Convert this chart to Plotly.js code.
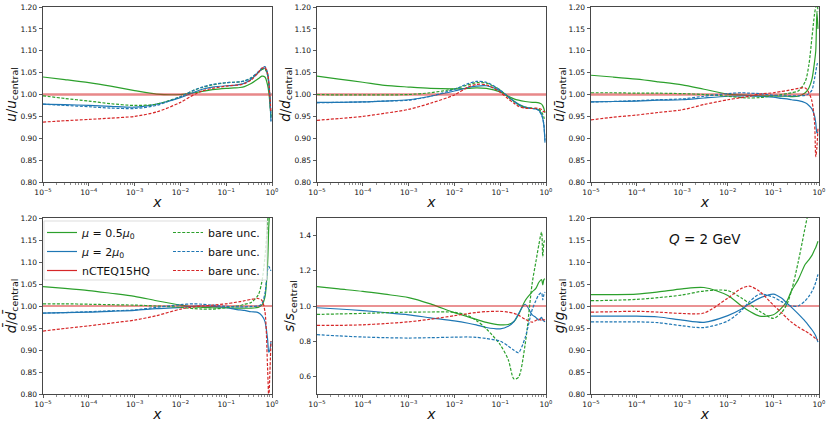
<!DOCTYPE html>
<html><head><meta charset="utf-8">
<script src="https://cdn.plot.ly/plotly-3.0.1.min.js"></script>
<style>html,body{margin:0;padding:0;background:#fff}#chart{width:831px;height:424px}</style>
</head><body><div id="chart"></div>
<script>
// x grid (shared by all curves)
const xGrid = [1e-5, 3e-5, 1e-4, 3e-4, 1e-3, 3e-3, 0.01, 0.02, 0.03, 0.05, 0.1, 0.15, 0.2, 0.25, 0.35, 0.5, 0.6, 0.7, 0.8, 0.85, 0.9, 0.95];
// central reference (ratio to itself)
const centralX = [1e-5, 1];
const centralRatio = [1, 1];

// u
const u_mu05   = [1.040,1.034,1.027,1.019,1.009,1.001,1.000,1.004,1.007,1.011,1.014,1.015,1.016,1.018,1.025,1.036,1.042,1.040,1.022,1.005,0.980,0.950];
const u_mu2    = [0.978,0.977,0.975,0.973,0.971,0.978,0.993,1.005,1.012,1.017,1.020,1.021,1.023,1.026,1.035,1.050,1.058,1.060,1.045,1.025,0.990,0.938];
const u_bare05 = [0.997,0.991,0.985,0.979,0.975,0.978,0.995,1.010,1.016,1.022,1.027,1.028,1.029,1.031,1.038,1.050,1.057,1.058,1.045,1.025,0.990,0.945];
const u_bare2  = [0.978,0.975,0.972,0.969,0.968,0.975,0.995,1.010,1.017,1.023,1.027,1.028,1.029,1.031,1.038,1.052,1.060,1.064,1.050,1.030,0.995,0.940];
const u_bareHQ = [0.937,0.940,0.943,0.946,0.950,0.960,0.982,1.000,1.008,1.014,1.019,1.021,1.022,1.025,1.033,1.050,1.060,1.062,1.048,1.030,0.995,0.960];
// d
const d_mu05   = [1.042,1.035,1.028,1.021,1.017,1.014,1.013,1.014,1.015,1.014,1.006,0.996,0.990,0.987,0.984,0.982,0.982,0.981,0.978,0.974,0.968,0.958];
const d_mu2    = [0.982,0.982,0.983,0.985,0.988,0.996,1.008,1.016,1.019,1.020,1.008,0.995,0.985,0.978,0.971,0.968,0.967,0.964,0.955,0.945,0.930,0.890];
const d_bare05 = [1.000,0.999,0.999,0.999,1.000,1.004,1.013,1.022,1.027,1.026,1.010,0.994,0.984,0.977,0.971,0.969,0.968,0.966,0.960,0.955,0.948,0.940];
const d_bare2  = [0.981,0.982,0.983,0.985,0.987,0.996,1.012,1.025,1.030,1.028,1.010,0.995,0.984,0.976,0.970,0.968,0.967,0.963,0.953,0.945,0.930,0.895];
const d_bareHQ = [0.941,0.945,0.950,0.957,0.966,0.980,0.999,1.017,1.023,1.022,1.005,0.990,0.980,0.973,0.969,0.968,0.969,0.968,0.966,0.963,0.960,0.962];
// u-bar
const ub_mu05   = [1.044,1.040,1.035,1.029,1.022,1.012,1.001,0.999,0.998,0.997,0.997,0.996,0.996,0.995,0.996,1.004,1.015,1.035,1.075,1.100,1.190,1.150];
const ub_mu2    = [0.983,0.984,0.985,0.987,0.988,0.992,0.996,0.997,0.997,0.996,0.994,0.991,0.990,0.988,0.986,0.981,0.975,0.967,0.951,0.935,0.912,0.915];
const ub_bare05 = [1.004,1.004,1.003,1.003,1.002,1.000,0.996,0.993,0.992,0.993,0.997,1.000,1.002,1.004,1.008,1.030,1.068,1.130,1.185,1.200,1.210,1.190];
const ub_bare2  = [0.983,0.984,0.986,0.988,0.990,0.996,1.002,1.004,1.003,1.002,0.998,0.997,0.997,0.997,0.997,0.998,1.002,1.010,1.037,1.052,1.067,1.075];
const ub_bareHQ = [0.942,0.948,0.953,0.959,0.965,0.977,0.988,0.993,0.996,1.001,1.004,1.007,1.009,1.011,1.014,1.015,1.004,0.985,0.935,0.858,0.880,0.925];
// d-bar
const db_mu05   = [1.044,1.040,1.035,1.029,1.022,1.012,1.002,0.998,0.997,0.996,0.996,0.995,0.995,0.995,0.995,0.997,1.002,1.020,1.095,1.180,1.220,1.250];
const db_mu2    = [0.984,0.985,0.986,0.988,0.990,0.994,0.997,1.000,1.000,0.999,0.996,0.993,0.991,0.990,0.987,0.985,0.978,0.965,0.925,0.895,0.900,0.920];
const db_bare05 = [1.005,1.005,1.004,1.003,1.002,1.000,0.997,0.994,0.993,0.993,0.996,0.999,1.001,1.004,1.008,1.025,1.055,1.110,1.190,1.220,1.230,1.230];
const db_bare2  = [0.984,0.985,0.987,0.989,0.991,0.997,1.003,1.005,1.004,1.002,0.999,0.998,0.998,0.998,0.999,1.000,1.005,1.028,1.082,1.090,1.085,1.080];
const db_bareHQ = [0.943,0.949,0.955,0.961,0.968,0.978,0.993,0.998,1.000,1.002,1.005,1.008,1.010,1.012,1.015,1.017,1.013,0.988,0.860,0.790,0.850,0.920];
// s
const s_mu05   = [1.110,1.097,1.083,1.067,1.048,1.012,0.962,0.938,0.924,0.907,0.893,0.895,0.912,0.950,1.030,1.080,1.100,1.135,1.150,1.120,1.150,1.155];
const s_mu2    = [0.990,0.983,0.974,0.963,0.950,0.933,0.915,0.902,0.893,0.878,0.870,0.885,0.912,0.955,1.010,0.950,0.935,0.920,0.935,0.920,0.915,0.910];
const s_bare05 = [0.952,0.955,0.958,0.962,0.965,0.966,0.964,0.945,0.918,0.870,0.780,0.695,0.585,0.595,0.780,1.130,1.250,1.350,1.420,1.280,1.360,1.380];
const s_bare2  = [0.837,0.830,0.824,0.820,0.818,0.820,0.823,0.824,0.822,0.815,0.800,0.772,0.748,0.735,0.820,0.980,1.030,1.065,1.075,1.035,1.065,1.080];
const s_bareHQ = [0.890,0.890,0.893,0.900,0.910,0.925,0.945,0.957,0.963,0.968,0.970,0.965,0.958,0.948,0.925,0.908,0.918,0.925,0.918,0.925,0.920,0.925];
// g
const g_mu05   = [1.026,1.026,1.027,1.032,1.039,1.042,1.024,1.000,0.988,0.977,0.980,0.995,1.012,1.035,1.060,1.095,1.105,1.115,1.128,1.133,1.140,1.147];
const g_mu2    = [0.977,0.977,0.977,0.975,0.968,0.963,0.978,0.993,1.005,1.018,1.027,1.018,1.006,0.997,0.982,0.965,0.955,0.946,0.937,0.932,0.925,0.918];
const g_bare05 = [1.012,1.013,1.015,1.019,1.025,1.034,1.035,1.018,1.005,0.988,0.972,0.985,1.005,1.035,1.100,1.180,1.220,1.260,1.300,1.320,1.340,1.360];
const g_bare2  = [0.964,0.964,0.964,0.962,0.955,0.951,0.966,0.990,1.010,1.027,1.020,1.010,1.003,1.000,1.000,1.012,1.022,1.033,1.046,1.054,1.063,1.072];
const g_bareHQ = [0.986,0.987,0.988,0.986,0.983,0.984,1.018,1.040,1.045,1.033,1.002,0.985,0.972,0.963,0.952,0.943,0.938,0.933,0.928,0.926,0.924,0.923];

const xTickVals = [1e-5, 1e-4, 1e-3, 1e-2, 1e-1, 1];
const xTickText = ['10<sup>\u22125</sup>','10<sup>\u22124</sup>','10<sup>\u22123</sup>','10<sup>\u22122</sup>','10<sup>\u22121</sup>','10<sup>0</sup>'];
const legendNames = ['<i>\u03bc</i> = 0.5<i>\u03bc</i><sub>0</sub>', '<i>\u03bc</i> = 2<i>\u03bc</i><sub>0</sub>', 'nCTEQ15HQ', 'bare unc.'];

const panels = [
  {title:'<i>u</i>/<i>u</i><sub>central</sub>', s:[u_mu05,u_mu2,u_bare05,u_bare2,u_bareHQ]},
  {title:'<i>d</i>/<i>d</i><sub>central</sub>', s:[d_mu05,d_mu2,d_bare05,d_bare2,d_bareHQ]},
  {title:'<i>\u016b</i>/<i>\u016b</i><sub>central</sub>', s:[ub_mu05,ub_mu2,ub_bare05,ub_bare2,ub_bareHQ]},
  {title:'<i>d\u0304</i>/<i>d\u0304</i><sub>central</sub>', s:[db_mu05,db_mu2,db_bare05,db_bare2,db_bareHQ], legend:true},
  {title:'<i>s</i>/<i>s</i><sub>central</sub>', s:[s_mu05,s_mu2,s_bare05,s_bare2,s_bareHQ], yr:[0.5,1.5], dt:0.2, fmt:'.1f'},
  {title:'<i>g</i>/<i>g</i><sub>central</sub>', s:[g_mu05,g_mu2,g_bare05,g_bare2,g_bareHQ]}
];

const GREEN='#2ca02c', BLUE='#1f77b4', RED='#d62728';
const xDom = [[43/831,272/831],[317/831,546/831],[591/831,819/831]];
const yDom = [[(424-182)/424,(424-7)/424],[(424-394)/424,(424-218)/424]];
const FONT = 'DejaVu Sans, Liberation Sans, sans-serif';

const minorVals = [];
for (let e=-5;e<0;e++) for (let k=2;k<=9;k++) minorVals.push(k*Math.pow(10,e));

const traces = [];
const layout = {
  width:831, height:424, margin:{l:0,r:0,t:0,b:0},
  paper_bgcolor:'#fff', plot_bgcolor:'#fff', showlegend:true,
  font:{family:FONT, color:'#111'},
  shapes:[], annotations:[]
};

panels.forEach((p,i)=>{
  const n = i+1, sfx = n===1?'':String(n);
  const xa='x'+sfx, ya='y'+sfx;
  const col = i%3, row = Math.floor(i/3);
  const lg = !!p.legend;
  const mk = (y,color,dash,name,legend,show)=>({
    x:xGrid, y:y, xaxis:xa, yaxis:ya, mode:'lines', type:'scatter',
    line:{color:color, width:1.2, dash:dash, shape:'spline', smoothing:0.8},
    name:name, legend:legend, showlegend:show, hoverinfo:'skip'
  });
  const redCentral = {
    x:centralX, y:centralRatio, xaxis:xa, yaxis:ya, mode:'lines', type:'scatter',
    line:{color: row===0 ? 'rgba(214,39,40,0.55)' : RED, width: row===0 ? 2.4 : 1.2},
    name:legendNames[2], legend:'legend', showlegend:lg, hoverinfo:'skip'
  };
  traces.push(mk(p.s[0],GREEN,'solid',legendNames[0],'legend',lg));
  traces.push(mk(p.s[1],BLUE,'solid',legendNames[1],'legend',lg));
  traces.push(redCentral);
  traces.push(mk(p.s[2],GREEN,'3px,1.6px',legendNames[3],'legend2',lg));
  traces.push(mk(p.s[3],BLUE,'3px,1.6px',legendNames[3],'legend2',lg));
  traces.push(mk(p.s[4],RED,'3px,1.6px',legendNames[3],'legend2',lg));

  layout['xaxis'+sfx] = {
    type:'log', range:[-5,0], domain:xDom[col], anchor:ya,
    tickmode:'array', tickvals:xTickVals, ticktext:xTickText,
    ticks:'outside', ticklen:3.5, tickwidth:0.8, tickcolor:'#333',
    showline:true, linecolor:'#333', linewidth:0.9, mirror:true,
    showgrid:false, zeroline:false,
    tickfont:{size:7.5, family:FONT, color:'#111'},
    minor:{tickmode:'array', tickvals:minorVals, ticks:'outside', ticklen:2, tickwidth:0.6, tickcolor:'#444', showgrid:false},
    title:{text:'<i>x</i>', font:{size:14, family:FONT, color:'#111'}, standoff:0}
  };
  layout['yaxis'+sfx] = {
    range:p.yr||[0.8,1.2], domain:yDom[row], anchor:xa,
    tick0:0, dtick:p.dt||0.05, tickformat:p.fmt||'.2f',
    ticks:'outside', ticklen:3.5, tickwidth:0.8, tickcolor:'#333',
    showline:true, linecolor:'#333', linewidth:0.9, mirror:true,
    showgrid:false, zeroline:false,
    tickfont:{size:7.5, family:FONT, color:'#111'},
    title:{text:p.title, font:{size:13.5, family:FONT, color:'#111'}, standoff:0}
  };
});

// legend frame in panel 4
layout.shapes.push({type:'rect', xref:'paper', yref:'paper', layer:'above',
  x0:44/831, x1:267/831, y0:(424-280)/424, y1:(424-221)/424,
  fillcolor:'rgba(255,255,255,0.8)', line:{color:'#d4d4d4', width:0.8}});

layout.legend = {x:42/831, y:(424-218)/424, xanchor:'left', yanchor:'top',
  bgcolor:'rgba(0,0,0,0)', borderwidth:0, tracegroupgap:0, itemwidth:30,
  font:{size:11, family:FONT, color:'#111'}};
layout.legend2 = {x:168/831, y:(424-218)/424, xanchor:'left', yanchor:'top',
  bgcolor:'rgba(0,0,0,0)', borderwidth:0, tracegroupgap:0, itemwidth:30,
  font:{size:11, family:FONT, color:'#111'}};

layout.annotations.push({xref:'paper', yref:'paper', x:705/831, y:(424-239)/424,
  xanchor:'center', yanchor:'middle', showarrow:false,
  text:'<i>Q</i> = 2 GeV', font:{size:13.5, family:FONT, color:'#111'}});

Plotly.newPlot('chart', traces, layout, {displayModeBar:false, staticPlot:true});
</script>
</body></html>
